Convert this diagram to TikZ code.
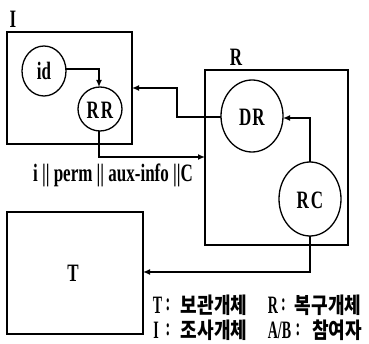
\documentclass[tikz,border=0pt]{standalone}
\usepackage{fontspec}
\setmainfont{Liberation Serif}[FakeStretch=0.68]
\newfontfamily\legfont{Liberation Serif}[FakeStretch=0.56]
\newfontfamily\kr{Noto Sans CJK KR}[FakeStretch=0.82]
\usetikzlibrary{arrows.meta}
\begin{document}
\begin{tikzpicture}[x=1pt,y=-1pt,
  line width=1.3pt,
  lbl/.style={font=\fontsize{25}{27}\selectfont\bfseries, inner sep=0pt},
  legl/.style={font=\legfont\fontsize{25}{27}\selectfont\bfseries, inner sep=0pt},
  legk/.style={font=\kr\fontsize{22}{24}\selectfont\bfseries, inner sep=0pt},
  arr/.style={-{Latex[length=7pt,width=6pt]}}]
\useasboundingbox (0,0) rectangle (369,344);
% boxes
\draw (7,32) rectangle (132,144);
\coordinate (Ie) at (132,88);
\node[lbl] (Il) at (13,19) {I};
\draw (205,70) rectangle (348,245);
\coordinate (Rw) at (205,157);
\node[lbl] (Rl) at (236,57) {R};
\draw (7,212) rectangle (143,334);
\coordinate (Te) at (143,272);
\node[lbl] (Tl) at (73,273) {T};
% circles
\draw (44,71) ellipse [x radius=22, y radius=25];
\node[lbl] (id) at (44,71) {id};
\coordinate (ide) at (66,69);
\draw (100,109) circle [radius=22];
\node[lbl] at (100,110) {R\kern2pt R};
\coordinate (RRn) at (99,87);
\coordinate (RRs) at (99,131);
\draw (252,116) ellipse [x radius=31, y radius=36];
\node[lbl] at (252,117) {D\kern1pt R};
\coordinate (DRw) at (221,117);
\coordinate (DRe) at (283,118);
\draw (310,199) ellipse [x radius=31, y radius=37];
\node[lbl] at (310,200) {R\kern2pt C};
\coordinate (RCn) at (310,162);
\coordinate (RCs) at (310,236);
% connectors
\draw[arr] (ide) -| (RRn);
\draw[arr] (RRs) |- (Rw);
\draw[arr] (DRw) -- (177,117) |- (Ie);
\draw[arr] (RCn) |- (DRe);
\draw[arr] (RCs) |- (Te);
% label
\node[lbl] (msg) at (113,175) {i || perm || aux-info ||C};
% legend
\node[legl] (a1) at (157.5,305) {T};
\node[legl] (a2) at (168,305) {:};
\node[legk] (a3) at (214,305) {보관개체};
\node[legl] (b1) at (273,305) {R};
\node[legl] (b2) at (283.5,305) {:};
\node[legk] (b3) at (328,305) {복구개체};
\node[legl] (c1) at (156,330) {I};
\node[legl] (c2) at (168,330) {:};
\node[legk] (c3) at (214,330) {조사개체};
\node[legl] (d1) at (279.5,330) {A/B};
\node[legl] (d2) at (298,330) {:};
\node[legk] (d3) at (337,330) {참여자};
\end{tikzpicture}
\end{document}
